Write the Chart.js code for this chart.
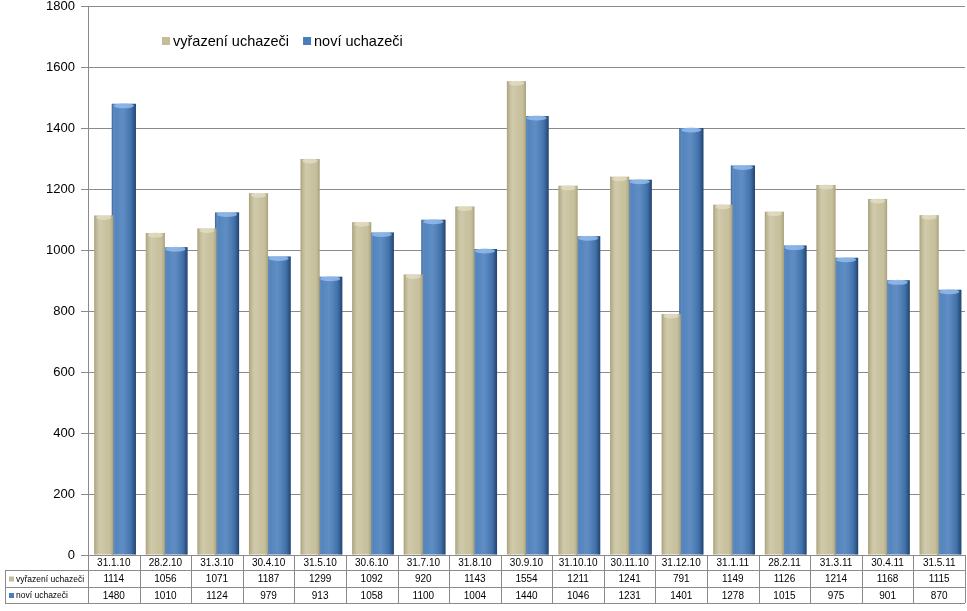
<!DOCTYPE html>
<html>
<head>
<meta charset="utf-8">
<script src="https://cdn.jsdelivr.net/npm/chart.js@4"></script>
<style>
  html, body { margin: 0; padding: 0; background: #fff; }
  #wrap { width: 967px; height: 611px; }
</style>
</head>
<body>
<div id="wrap"><canvas id="c" width="967" height="611"></canvas></div>
<script>
const categories = ['31.1.10', '28.2.10', '31.3.10', '30.4.10', '31.5.10', '30.6.10', '31.7.10', '31.8.10',
    '30.9.10', '31.10.10', '30.11.10', '31.12.10', '31.1.11', '28.2.11', '31.3.11', '30.4.11', '31.5.11'];
const vyrazeni = [1114, 1056, 1071, 1187, 1299, 1092, 920, 1143, 1554, 1211, 1241, 791, 1149, 1126, 1214, 1168, 1115];
const novi = [1480, 1010, 1124, 979, 913, 1058, 1100, 1004, 1440, 1046, 1231, 1401, 1278, 1015, 975, 901, 870];
const seriesNames = ['vyřazení uchazeči', 'noví uchazeči'];
const yTicks = [0, 200, 400, 600, 800, 1000, 1200, 1400, 1600, 1800];

const TAN = '#c4bd97';
const BLUE = '#4a7ebb';
const GRID = '#8a8a8a';

// shading over each bar so it looks like the rounded excel bars
const shadePlugin = {
    id: 'shade',
    afterDatasetDraw(chart, args) {
        const c = chart.ctx;
        const meta = args.meta;
        const blue = args.index === 1;
        meta.data.forEach(bar => {
            const l = bar.x - bar.width / 2, r = bar.x + bar.width / 2;
            const g = c.createLinearGradient(l, 0, r, 0);
            if (blue) {
                g.addColorStop(0, 'rgba(30,60,100,0.45)');
                g.addColorStop(0.15, 'rgba(255,255,255,0.05)');
                g.addColorStop(0.45, 'rgba(255,255,255,0.12)');
                g.addColorStop(0.8, 'rgba(20,45,80,0.15)');
                g.addColorStop(1, 'rgba(15,35,65,0.65)');
            } else {
                g.addColorStop(0, 'rgba(120,110,70,0.35)');
                g.addColorStop(0.3, 'rgba(255,255,255,0.2)');
                g.addColorStop(0.7, 'rgba(255,255,255,0.05)');
                g.addColorStop(1, 'rgba(110,100,60,0.35)');
            }
            c.save();
            c.fillStyle = g;
            c.fillRect(l, bar.y, bar.width, bar.base - bar.y);
            // top cap
            c.beginPath();
            c.ellipse(bar.x, bar.y + 2, bar.width / 2 - 2, 2.5, 0, 0, Math.PI * 2);
            c.fillStyle = blue ? 'rgba(150,190,240,0.8)' : 'rgba(230,225,200,0.7)';
            c.fill();
            c.restore();
        });
    }
};

// legend inside the plot + data table under it
const tablePlugin = {
    id: 'table',
    afterDraw(chart) {
        const c = chart.ctx;
        const x = chart.scales.x;
        const area = chart.chartArea;
        const n = categories.length;
        const w = (area.right - area.left) / n;
        const top = area.bottom, r1 = top + 15, r2 = r1 + 17, bot = r2 + 16;
        const tl = 5;

        c.save();
        c.strokeStyle = GRID;
        c.lineWidth = 1;
        c.beginPath();
        c.moveTo(area.left, top + 0.5); c.lineTo(area.right, top + 0.5);
        [r1, r2, bot].forEach(y => { c.moveTo(tl, y + 0.5); c.lineTo(area.right, y + 0.5); });
        for (let i = 0; i <= n; i++) {
            const xx = Math.round(area.left + w * i) + 0.5;
            c.moveTo(xx, top); c.lineTo(xx, bot);
        }
        c.moveTo(tl + 0.5, r1); c.lineTo(tl + 0.5, bot);
        c.stroke();

        c.fillStyle = '#000';
        c.font = '10px "Liberation Sans", Arial, sans-serif';
        c.textAlign = 'center';
        c.textBaseline = 'middle';
        categories.forEach((cat, i) => {
            const cx = x.getPixelForValue(i);
            c.fillText(cat, cx, (top + r1) / 2 + 1);
            c.fillText(String(vyrazeni[i]), cx, (r1 + r2) / 2 + 1);
            c.fillText(String(novi[i]), cx, (r2 + bot) / 2 + 1);
        });
        c.textAlign = 'left';
        c.font = '8.5px "Liberation Sans", Arial, sans-serif';
        [[TAN, seriesNames[0], (r1 + r2) / 2], [BLUE, seriesNames[1], (r2 + bot) / 2]].forEach(([col, name, y]) => {
            c.fillStyle = col;
            c.fillRect(9, y - 2, 5, 5);
            c.fillStyle = '#000';
            c.fillText(name, 16, y + 1);
        });

        // legend
        c.font = '14.5px "Liberation Sans", Arial, sans-serif';
        let lx = 162;
        const ly = 41;
        [[TAN, seriesNames[0]], [BLUE, seriesNames[1]]].forEach(([col, name]) => {
            c.fillStyle = col;
            c.fillRect(lx, ly - 4, 8, 8);
            c.fillStyle = '#000';
            c.fillText(name, lx + 11, ly + 1);
            lx += 11 + c.measureText(name).width + 14;
        });
        c.restore();
    }
};

new Chart(document.getElementById('c'), {
    type: 'bar',
    data: {
        labels: categories,
        datasets: [
            {
                label: seriesNames[0],
                data: vyrazeni,
                backgroundColor: TAN,
                borderWidth: 0,
                categoryPercentage: 0.78,
                barPercentage: 0.95
            },
            {
                label: seriesNames[1],
                data: novi,
                backgroundColor: BLUE,
                borderWidth: 0,
                categoryPercentage: 0.78,
                barPercentage: 1.2
            }
        ]
    },
    options: {
        responsive: false,
        animation: false,
        layout: { padding: { top: 0, right: 2, bottom: 56, left: 0 } },
        plugins: {
            legend: { display: false },
            tooltip: { enabled: false }
        },
        scales: {
            x: {
                display: false,
                grid: { display: false }
            },
            y: {
                min: 0,
                max: 1800,
                afterBuildTicks: s => { s.ticks = yTicks.map(v => ({ value: v })); },
                afterFit: s => { s.width = 88; },
                ticks: {
                    color: '#000',
                    font: { family: '"Liberation Sans", Arial, sans-serif', size: 13, lineHeight: 0.05 },
                    padding: 6,
                    callback: v => String(v)
                },
                grid: { color: GRID, tickLength: 7, drawTicks: true },
                border: { color: GRID }
            }
        }
    },
    plugins: [shadePlugin, tablePlugin]
});
</script>
</body>
</html>
